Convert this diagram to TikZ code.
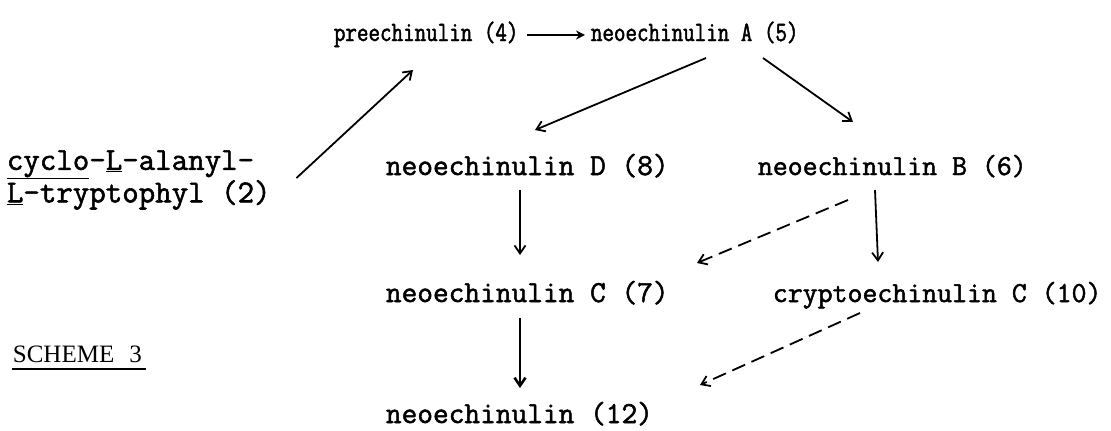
\documentclass[tikz,border=0pt]{standalone}
\usepackage{fontspec}
\newfontfamily\typer{lmmono12-regular.otf}[FakeBold=1.7]
\newfontfamily\typernarrow{lmmono12-regular.otf}[FakeBold=1.7, FakeStretch=0.8]
\newfontfamily\schemefont{Liberation Serif}
\usetikzlibrary{arrows.meta,calc}

\begin{document}
\begin{tikzpicture}[x=1pt, y=-1pt, line width=1.8pt, >={Straight Barb[length=8pt,width=11pt]},
    cpd/.style={anchor=base west, inner sep=0pt, font=\typer\fontsize{30.5}{36}\selectfont},
    cpdright/.style={cpd, font=\typer\fontsize{29}{34}\selectfont},
    cpdsmall/.style={cpd, font=\typernarrow\fontsize{28}{32}\selectfont},
    maybe/.style={->, dash pattern=on 14pt off 7pt}]
  \useasboundingbox (0,0) rectangle (1111,431);
  % top row
  \node[cpdsmall] (pre) at (333,41) {preechinulin (4)};
  \node[cpdsmall] (neoA) at (590,41) {neoechinulin A (5)};
  % precursor
  \node[anchor=west, align=left, inner sep=0pt, font=\typer\fontsize{32}{27}\selectfont] (cyclo) at (6,180)
       {\underline{cyclo}-\underline{L}-alanyl-\\\underline{L}-tryptophyl (2)};
  % lower rows
  \node[cpd] (neoD) at (385,175) {neoechinulin D (8)};
  \node[cpdright] (neoB) at (757,175) {neoechinulin B (6)};
  \node[cpd] (neoC) at (385,302) {neoechinulin C (7)};
  \node[cpdright] (crypto) at (772,302) {cryptoechinulin C (10)};
  \node[cpd] (neo12) at (385,423) {neoechinulin (12)};
  \node[anchor=base west, inner sep=0pt, font=\schemefont\fontsize{25}{30}\selectfont] (scheme) at (12,362) {SCHEME\hspace{15pt}3};
  \draw[line width=1.3pt] ([yshift=-7pt]scheme.base west) -- ([xshift=3pt,yshift=-7pt]scheme.base east);
  % arrows
  \draw[->] ($(cyclo.east)+(25,-2)$) -- ($(pre.base west)+(80,29)$);
  \draw[-{Stealth[length=9pt,width=9pt]}] ($(pre.base west)+(194,-6)$) -- ($(neoA.base west)+(-5,-6)$);
  \draw[->] ($(neoA.base west)+(116,17)$) -- ($(neoD.base west)+(150,-45)$);
  \draw[->] ($(neoA.base west)+(173,17)$) -- ($(neoB.base west)+(96,-53)$);
  \draw[->] ($(neoD.base west)+(135,15)$) -- ($(neoC.base west)+(135,-47)$);
  \draw[->] ($(neoB.base west)+(118,15)$) -- ($(crypto.base west)+(106,-40)$);
  \draw[maybe] ($(neoB.base west)+(91,25)$) -- ($(neoC.base west)+(312,-39)$);
  \draw[->, line width=2.6pt] ($(neoC.base west)+(135,16)$) -- ($(neo12.base west)+(135,-35)$);
  \draw[maybe] ($(crypto.base west)+(88,11)$) -- ($(neo12.base west)+(315,-38)$);
\end{tikzpicture}
\end{document}
